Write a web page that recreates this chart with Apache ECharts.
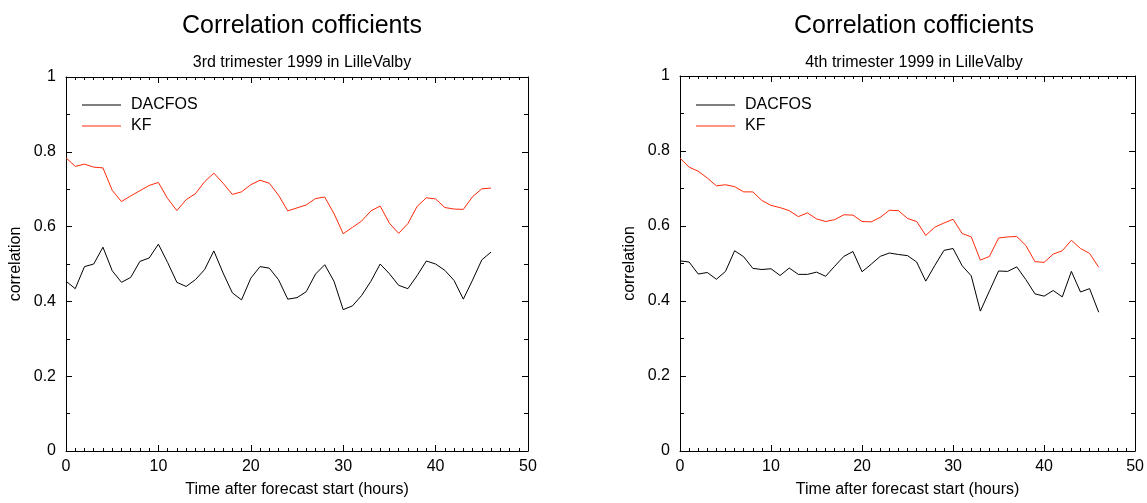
<!DOCTYPE html>
<html>
<head>
<meta charset="utf-8">
<script src="https://cdn.jsdelivr.net/npm/echarts@6/dist/echarts.min.js"></script>
<style>
html,body{margin:0;padding:0;background:#fff;}
#c{width:1147px;height:503px;}
</style>
</head>
<body>
<div id="c"></div>
<script>
// hours after forecast start
var hours = [0,1,2,3,4,5,6,7,8,9,10,11,12,13,14,15,16,17,18,19,20,21,22,23,24,25,26,27,28,29,30,31,32,33,34,35,36,37,38,39,40,41,42,43,44,45,46];

// 3rd trimester 1999
var q3Dacfos = [0.454,0.434,0.493,0.500,0.545,0.482,0.451,0.464,0.507,0.516,0.553,0.504,0.451,0.440,0.458,0.485,0.535,0.476,0.423,0.404,0.462,0.493,0.489,0.458,0.406,0.410,0.426,0.473,0.498,0.454,0.378,0.388,0.416,0.454,0.500,0.474,0.443,0.434,0.469,0.508,0.500,0.483,0.456,0.406,0.457,0.511,0.532];
var q3Kf = [0.784,0.761,0.767,0.759,0.757,0.697,0.667,0.682,0.696,0.710,0.718,0.675,0.643,0.672,0.688,0.720,0.743,0.716,0.686,0.693,0.712,0.724,0.716,0.684,0.642,0.650,0.658,0.675,0.679,0.635,0.581,0.598,0.615,0.642,0.655,0.609,0.582,0.608,0.654,0.677,0.674,0.651,0.647,0.646,0.680,0.701,0.703];

// 4th trimester 1999
var q4Dacfos = [0.507,0.504,0.472,0.476,0.458,0.479,0.534,0.518,0.487,0.484,0.486,0.468,0.488,0.471,0.471,0.477,0.466,0.493,0.519,0.532,0.478,0.498,0.519,0.528,0.524,0.521,0.504,0.453,0.495,0.535,0.540,0.494,0.467,0.373,0.427,0.480,0.479,0.491,0.457,0.419,0.413,0.428,0.411,0.479,0.424,0.433,0.370];
var q4Kf = [0.781,0.757,0.746,0.728,0.707,0.710,0.705,0.691,0.691,0.668,0.655,0.649,0.641,0.625,0.635,0.619,0.612,0.617,0.630,0.629,0.612,0.611,0.623,0.642,0.641,0.620,0.612,0.575,0.597,0.608,0.618,0.580,0.571,0.509,0.519,0.568,0.571,0.572,0.548,0.505,0.503,0.525,0.534,0.562,0.540,0.527,0.490];

var mainTitle = 'Correlation cofficients';
var subTitles = ['3rd trimester 1999 in LilleValby', '4th trimester 1999 in LilleValby'];
var xName = 'Time after forecast start (hours)';
var yName = 'correlation';
var seriesNames = ['DACFOS', 'KF'];

function pairs(v){ return hours.map(function(h,i){ return [h, v[i]]; }); }

var FONT = 'Liberation Sans, Arial, sans-serif';
var BLACK = '#000000';
var RED = '#ff2a0a';

var grids = [
  {left: 66, width: 462, top: 77, height: 381},
  {left: 680, width: 458, top: 76, height: 377}
];

function xAx(gi, pos, show){
  return {
    type: 'value', gridIndex: gi, position: pos, min: 0, max: 50, interval: 10,
    name: show ? xName : '', nameLocation: 'middle', nameGap: 31,
    nameTextStyle: {fontFamily: FONT, fontSize: 16, color: BLACK},
    axisLine: {show: true, onZero: false, lineStyle: {color: BLACK, width: 1}},
    axisTick: {show: true, inside: true, length: 6, lineStyle: {color: BLACK}},
    minorTick: {show: true, splitNumber: 10, length: 3, lineStyle: {color: BLACK}},
    axisLabel: {show: show, fontFamily: FONT, fontSize: 16, color: BLACK, margin: 8},
    splitLine: {show: false}
  };
}
function yAx(gi, pos, show){
  return {
    type: 'value', gridIndex: gi, position: pos, min: 0, max: 1, interval: 0.2,
    name: show ? yName : '', nameLocation: 'middle', nameGap: 42,
    nameTextStyle: {fontFamily: FONT, fontSize: 16, color: BLACK},
    axisLine: {show: true, onZero: false, lineStyle: {color: BLACK, width: 1}},
    axisTick: {show: true, inside: true, length: 6, lineStyle: {color: BLACK}},
    minorTick: {show: true, splitNumber: 2, length: 4, lineStyle: {color: BLACK}},
    axisLabel: {show: show, fontFamily: FONT, fontSize: 16, color: BLACK, margin: 10,
      formatter: function(v){ return String(Math.round(v*10)/10); }},
    splitLine: {show: false}
  };
}

var datasets = [[q3Dacfos, q3Kf], [q4Dacfos, q4Kf]];
var series = [];
[0,1].forEach(function(gi){
  [BLACK, RED].forEach(function(col, si){
    series.push({
      type: 'line', name: seriesNames[si], xAxisIndex: gi*2, yAxisIndex: gi*2,
      data: pairs(datasets[gi][si]), symbol: 'none', showSymbol: false,
      lineStyle: {color: col, width: 1}, itemStyle: {color: col},
      animation: false, silent: true
    });
  });
});

function legendAt(left, top){
  return {left: left, top: top, orient: 'vertical', itemWidth: 39, itemHeight: 1, itemGap: 5,
    icon: 'rect', textStyle: {fontFamily: FONT, fontSize: 16, color: BLACK, padding: [0,0,0,5]},
    data: [{name: seriesNames[0], itemStyle: {color: BLACK}}, {name: seriesNames[1], itemStyle: {color: RED}}],
    selectedMode: false};
}
function titleAt(text, cx, top, size){
  return {text: text, left: cx, top: top, textAlign: 'center',
    textStyle: {fontFamily: FONT, fontSize: size, fontWeight: 'normal', color: BLACK}};
}

var option = {
  backgroundColor: '#ffffff',
  animation: false,
  title: [
    titleAt(mainTitle, 297, 9, 25),
    titleAt(subTitles[0], 297, 50, 16),
    titleAt(mainTitle, 909, 9, 25),
    titleAt(subTitles[1], 909, 50, 16)
  ],
  legend: [legendAt(77, 92), legendAt(691, 92)],
  grid: grids,
  xAxis: [xAx(0,'bottom',true), xAx(0,'top',false), xAx(1,'bottom',true), xAx(1,'top',false)],
  yAxis: [yAx(0,'left',true), yAx(0,'right',false), yAx(1,'left',true), yAx(1,'right',false)],
  series: series
};

var chart = echarts.init(document.getElementById('c'), null, {renderer: 'canvas'});
chart.setOption(option);
</script>
</body>
</html>
